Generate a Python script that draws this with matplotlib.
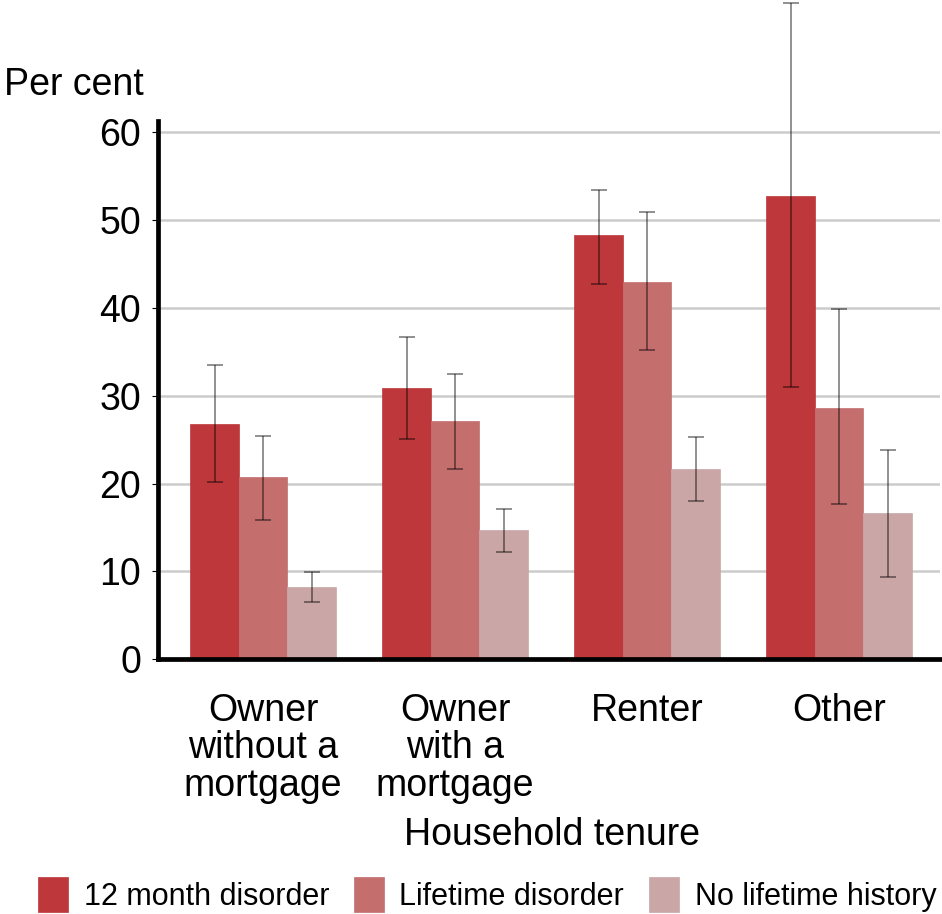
import numpy as np
import matplotlib.pyplot as plt

plt.rcParams['font.family'] = ['Liberation Sans', 'DejaVu Sans']

categories = ["Owner\nwithout a\nmortgage", "Owner\nwith a\nmortgage", "Renter", "Other"]
series = ["12 month disorder", "Lifetime disorder", "No lifetime history"]

values = {
    "12 month disorder": [26.8, 30.9, 48.2, 52.7],
    "Lifetime disorder": [20.7, 27.1, 42.9, 28.6],
    "No lifetime history": [8.2, 14.7, 21.6, 16.6],
}
err_low = {
    "12 month disorder": [20.2, 25.1, 42.7, 31.0],
    "Lifetime disorder": [15.9, 21.7, 35.2, 17.7],
    "No lifetime history": [6.5, 12.2, 18.0, 9.4],
}
err_high = {
    "12 month disorder": [33.5, 36.6, 53.4, 74.6],
    "Lifetime disorder": [25.4, 32.4, 50.9, 39.8],
    "No lifetime history": [9.9, 17.1, 25.3, 23.8],
}
colors = ["#BE373A", "#C46E6E", "#CBA6A6"]

fig = plt.figure(figsize=(9.42, 9.14), dpi=100)
ax = fig.add_axes([0.1677, 0.2785, 0.8303, 0.589])

x = np.arange(len(categories))
w = 0.2526
for i, name in enumerate(series):
    v = np.array(values[name])
    lo = v - np.array(err_low[name])
    hi = np.array(err_high[name]) - v
    pos = x + (i - 1) * w
    ax.bar(pos, v, width=w, color=colors[i], edgecolor=colors[i], linewidth=0.5,
           label=name, zorder=2)
    eb = ax.errorbar(pos, v, yerr=[lo, hi], fmt='none', ecolor=(0, 0, 0, 0.55),
                     elinewidth=1.1, capsize=6, capthick=1.1, zorder=3)
    for art in eb.get_children():
        art.set_clip_on(False)

ax.set_xlim(-0.547, 3.526)
ax.set_ylim(0, 61.2)
ax.set_yticks([0, 10, 20, 30, 40, 50, 60])
ax.set_xticks(x)
ax.set_xticklabels(categories, fontsize=27, linespacing=1.05)
ax.tick_params(axis='x', length=0, pad=24)
ax.tick_params(axis='y', length=4, width=0.8, pad=8, labelsize=27)

for yv in [10, 20, 30, 40, 50, 60]:
    ax.axhline(yv, color="#cccccc", linewidth=1.8, zorder=1)

for s in ['top', 'right']:
    ax.spines[s].set_visible(False)
ax.spines['left'].set_linewidth(3.4)
ax.spines['bottom'].set_linewidth(3.4)
ax.spines['bottom'].set_zorder(4)

fig.text(0.5855, 1 - 845 / 914, "Household tenure", fontsize=27, ha='center', va='baseline')
fig.text(0.004, 0.896, "Per cent", fontsize=27, ha='left', va='baseline')

fig.legend(loc='lower center', bbox_to_anchor=(0.517, 0.0), ncol=3, frameon=False,
           fontsize=22, handlelength=1.0, handleheight=1.4, handletextpad=0.5,
           columnspacing=0.8, borderaxespad=0, borderpad=0.05)

fig.savefig("out.png", dpi=100)
